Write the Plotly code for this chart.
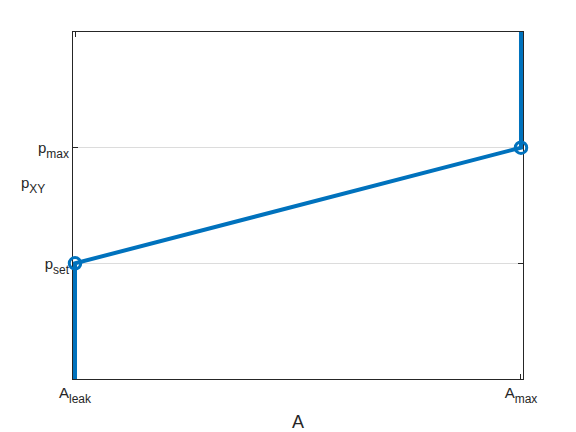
import plotly.graph_objects as go

# data
A_leak, A_max = 0.0, 1.0
p_set, p_max = 1.0, 2.0
p_bottom, p_top = 0.0, 3.0
curve_A = [A_leak, A_leak, A_max, A_max]
curve_p = [p_bottom, p_set, p_max, p_top]
marker_A = [A_leak, A_max]
marker_p = [p_set, p_max]
x_tick_vals = [A_leak, A_max]
y_tick_vals = [p_set, p_max]

def sub(base, s):
    # double <sub> for a deeper MATLAB-like subscript shift, then fix its size
    return f"{base}<sub><sub><span style='font-size:12px'>{s}</span></sub></sub>"

x_tick_text = [sub("A", "leak"), sub("A", "max")]
y_tick_text = [sub("p", "set"), sub("p", "max")]

blue = "#0072BD"
dark = "#262626"
FONT = "Liberation Sans, Arial, Helvetica"

fig = go.Figure()
fig.add_trace(go.Scatter(x=curve_A, y=curve_p, mode="lines",
                         line=dict(color=blue, width=4), cliponaxis=False,
                         hoverinfo="skip"))
fig.add_trace(go.Scatter(x=marker_A, y=marker_p, mode="markers",
                         marker=dict(symbol="circle-open", size=11.5, color=blue,
                                     line=dict(width=3, color=blue)),
                         cliponaxis=False))

axis_common = dict(showline=True, linecolor=dark, linewidth=1, mirror="ticks",
                   ticks="inside", ticklen=5, tickcolor=dark,
                   tickfont=dict(family=FONT, size=15, color=dark),
                   zeroline=False, layer="below traces", automargin=False)

pad = 0.0045  # ~2px so the thick vertical segments are not clipped at the box edges

fig.update_layout(
    width=576, height=432,
    margin=dict(l=65, r=61, t=24, b=61),
    paper_bgcolor="white", plot_bgcolor="white",
    showlegend=False,
    font=dict(family=FONT, size=15, color=dark),
    xaxis=dict(range=[A_leak - pad, A_max + pad], tickvals=x_tick_vals, ticktext=x_tick_text,
               showgrid=False, title=dict(text="A", standoff=10), **axis_common),
    yaxis=dict(range=[p_bottom, p_top], tickvals=y_tick_vals, ticktext=y_tick_text,
               showgrid=True, gridcolor="#dcdcdc", gridwidth=1, **axis_common),
    annotations=[dict(text=sub("p", "XY"), x=-0.057, xref="paper", y=0.56, yref="paper",
                      xanchor="right", yanchor="middle", showarrow=False,
                      font=dict(family=FONT, size=15, color=dark))],
)
fig.write_html("out.html")
